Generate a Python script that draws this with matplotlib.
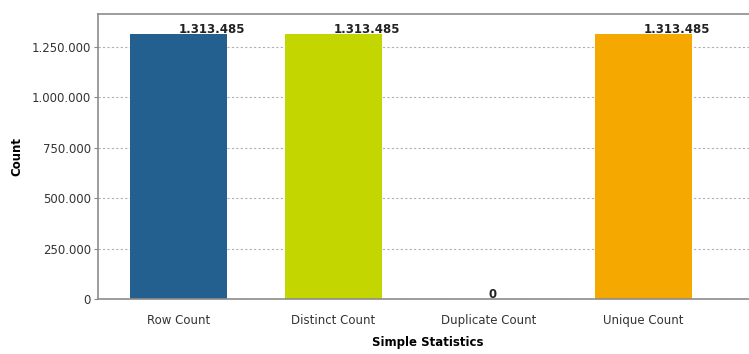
import matplotlib.pyplot as plt
from matplotlib.ticker import FuncFormatter

plt.rcParams['font.family'] = ['DejaVu Sans']

# simple statistics of the column
categories = ['Row Count', 'Distinct Count', 'Duplicate Count', 'Unique Count']
counts = [1313485, 1313485, 0, 1313485]
colors = ['#23608f', '#c3d600', '#8a8a8a', '#f5a800']

def dotted(v, pos):
    return f'{int(v):,}'.replace(',', '.')

fig = plt.figure(figsize=(7.49, 3.54), dpi=100)
ax = fig.add_axes([98/749, 55/354, 660/749, 285/354])

x = range(len(categories))
ax.bar(x, counts, width=0.625, color=colors, zorder=2)

# value labels start at the middle of each bar
for i, c in zip(x, counts):
    ax.text(i, c - 8000, dotted(c, None), ha='left', va='bottom',
            fontsize=8.5, fontweight='bold', color='#222222', zorder=3)

ax.set_xlim(-0.52, 3.74)
ax.set_ylim(0, 1414000)
ax.set_yticks([0, 250000, 500000, 750000, 1000000, 1250000])
ax.yaxis.set_major_formatter(FuncFormatter(dotted))
ax.set_xticks(list(x))
ax.set_xticklabels(categories)

ax.grid(axis='y', linestyle=(0, (2, 2)), color='#b0b0b0', linewidth=0.8, zorder=0)
ax.tick_params(axis='y', length=3, color='#888888', labelsize=8.5, labelcolor='#333333', pad=2)
ax.tick_params(axis='x', length=0, labelsize=8.5, labelcolor='#333333', pad=11)
for side in ['left', 'bottom', 'top']:
    ax.spines[side].set_color('#8c8c8c')
    ax.spines[side].set_linewidth(1.2)
ax.spines['right'].set_visible(False)

ax.set_ylabel('Count', fontsize=8.5, fontweight='bold', labelpad=6)
ax.set_xlabel('Simple Statistics', fontsize=8.5, fontweight='bold', labelpad=6)

fig.savefig('out.png', dpi=100)
